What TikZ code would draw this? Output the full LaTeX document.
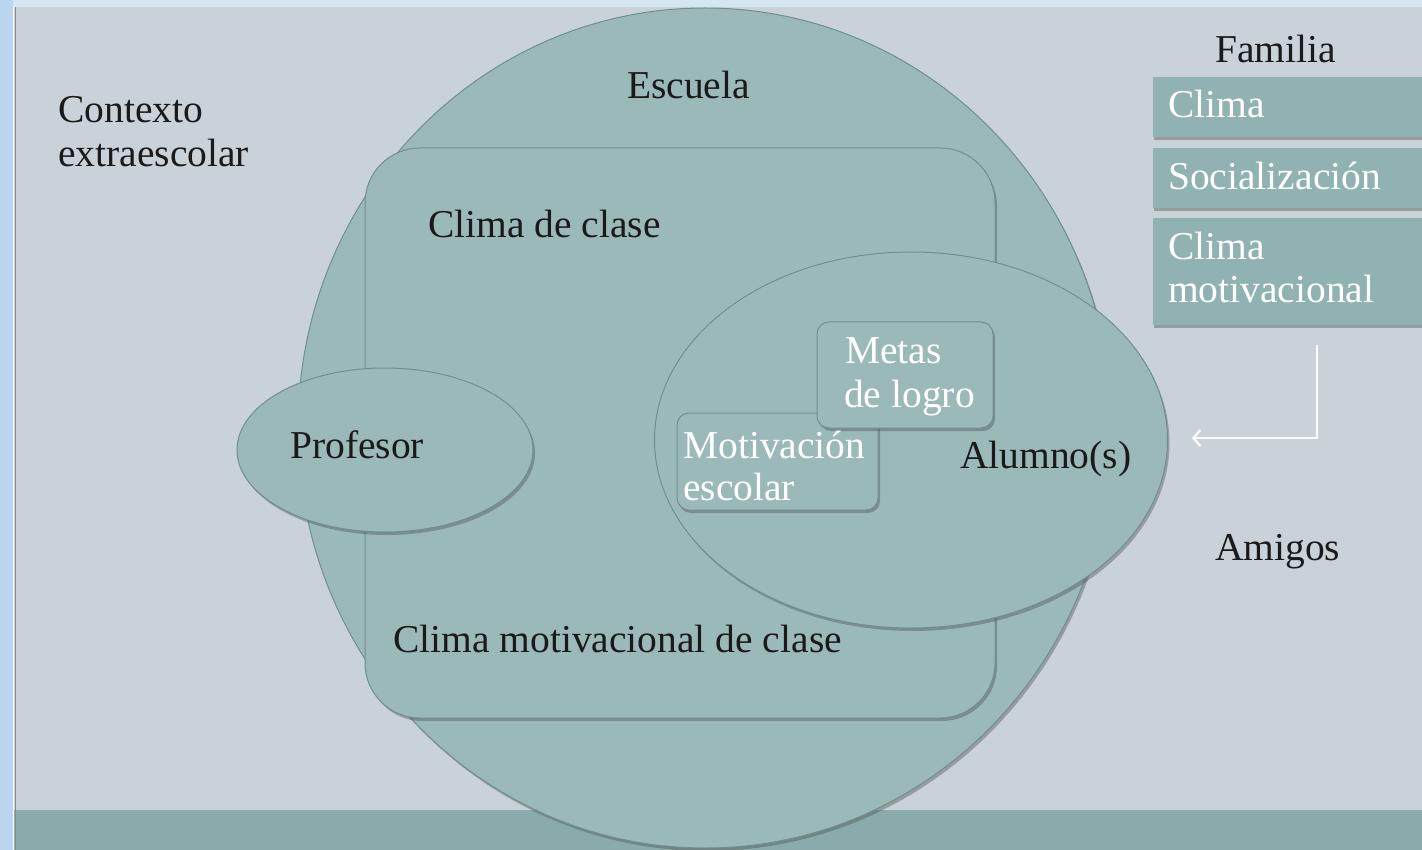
\documentclass[tikz,border=0pt]{standalone}
\usepackage{fontspec}
\setmainfont{Liberation Serif}
\usetikzlibrary{shapes.geometric,shadows,arrows.meta}
\definecolor{bgc}{HTML}{C8D2D8}
\definecolor{bandc}{HTML}{8AABAB}
\definecolor{shapec}{HTML}{9CB9B9}
\definecolor{edgec}{HTML}{6F8F8F}
\definecolor{boxc}{HTML}{90B2B2}
\definecolor{topc}{HTML}{D6E5F3}
\definecolor{leftc}{HTML}{BCD5EE}
\definecolor{textc}{HTML}{1A1A1A}
\begin{document}
\begin{tikzpicture}[x=1pt,y=-1pt,
  shp/.style={draw=edgec, line width=1pt, fill=shapec, inner sep=0pt,
    drop shadow={shadow xshift=2pt, shadow yshift=-3pt, opacity=0.4, fill=black!70}},
  fambox/.style={fill=boxc, inner sep=0pt, minimum width=279pt,
    drop shadow={shadow xshift=1pt, shadow yshift=-3pt, opacity=0.4, fill=black!70}},
  txt/.style={font=\fontsize{39.5}{44}\selectfont, inner sep=0pt, anchor=base west, text=textc},
  wtxt/.style={txt, text=white}
]
\useasboundingbox (0,0) rectangle (1422,850);
\clip (0,0) rectangle (1422,850);
\fill[bgc] (0,0) rectangle (1422,850);
\fill[bandc] (0,810) rectangle (1422,850);

% main shapes
\node[shp, ellipse, minimum width=814pt, minimum height=840pt] (escuela) at (705,428) {};
\node[shp, rectangle, rounded corners=55pt, minimum width=630pt, minimum height=570pt] (clase) at (680,433) {};
\node[shp, ellipse, minimum width=296pt, minimum height=164pt] (profesor) at (385,450) {};
\node[shp, ellipse, minimum width=513pt, minimum height=376pt] (alumno) at (911,440) {};
\node[shp, rectangle, rounded corners=12pt, minimum width=201pt, minimum height=97pt] (motiv) at (777.5,461.5) {};
\node[shp, rectangle, rounded corners=12pt, minimum width=176pt, minimum height=106pt] (metas) at (905,375) {};

% familia boxes
\node[fambox, minimum height=60pt] (fclima) at (1292.5,107) {};
\node[fambox, minimum height=60pt] (fsocial) at (1292.5,178) {};
\node[fambox, minimum height=107pt] (fclimamot) at (1292.5,271.5) {};

% strips
\fill[topc] (0,0) rectangle (1422,7);
\fill[leftc] (0,0) rectangle (13,850);
\draw[white, line width=1pt] (13.5,7) -- (13.5,850);
\draw[black!45, line width=1pt] (15,7) -- (15,850);

% arrow
\coordinate (fstart) at (1317,345);
\coordinate (fend) at (1192,438);
\draw[white, line width=2pt, -{Straight Barb[length=7pt,width=16pt]}] (fstart) |- (fend);

% texts
\node[txt] (ctx1) at (58,123) {Contexto};
\node[txt] (ctx2) at (58,167) {extraescolar};
\node[txt] (tesc) at (627,99) {Escuela};
\node[txt] (tclase) at (428,238) {Clima de clase};
\node[txt] (tprof) at (290,458) {Profesor};
\node[txt] (talum) at (960,468) {Alumno(s)};
\node[txt] (tcmc) at (393,652) {Clima motivacional de clase};
\node[txt] (tfam) at (1215,63) {Familia};
\node[txt] (tamig) at (1215,560) {Amigos};
\node[wtxt] (tfc) at (1168,118) {Clima};
\node[wtxt] (tfs) at (1168,190) {Socialización};
\node[wtxt] (tfm1) at (1168,260) {Clima};
\node[wtxt] (tfm2) at (1168,303) {motivacional};
\node[wtxt] (tmet1) at (845,363) {Metas};
\node[wtxt] (tmet2) at (844,407) {de logro};
\node[wtxt] (tmot1) at (683,458) {Motivación};
\node[wtxt] (tmot2) at (683,500) {escolar};
\end{tikzpicture}
\end{document}
